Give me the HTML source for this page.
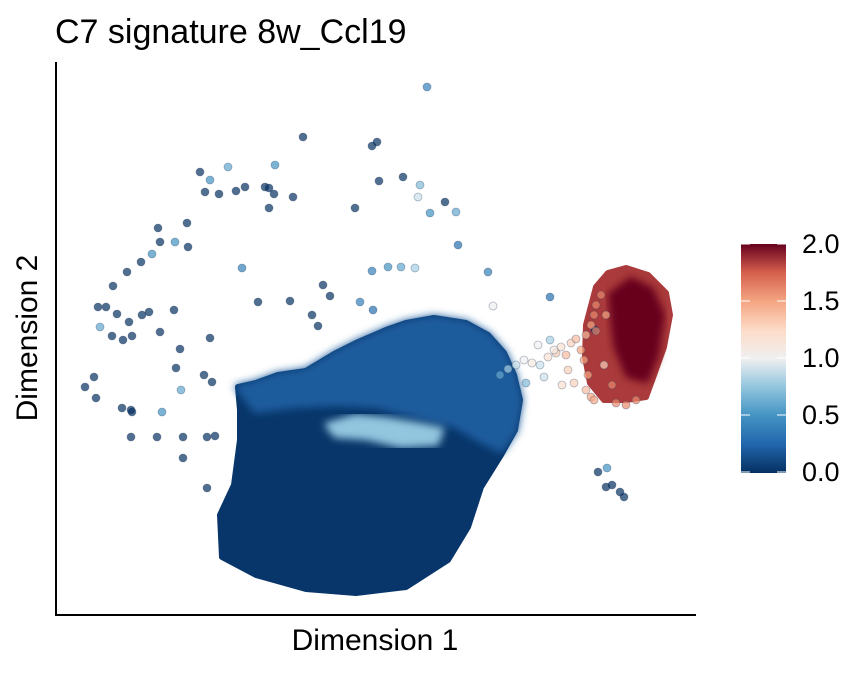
<!DOCTYPE html>
<html><head><meta charset="utf-8"><style>
html,body{margin:0;padding:0;background:#fff;}
svg text{font-family:"Liberation Sans",Arial,sans-serif;}
</style></head><body>
<svg id="chart" width="864" height="672" viewBox="0 0 864 672">
<defs>
<linearGradient id="rdbu" x1="0" y1="1" x2="0" y2="0">
<stop offset="0" stop-color="#053061"/><stop offset="0.125" stop-color="#2166ac"/><stop offset="0.25" stop-color="#4393c3"/><stop offset="0.375" stop-color="#92c5de"/><stop offset="0.5" stop-color="#f0f0f0"/><stop offset="0.625" stop-color="#fddbc7"/><stop offset="0.75" stop-color="#f4a582"/><stop offset="0.875" stop-color="#d6604d"/><stop offset="1" stop-color="#67001f"/>
</linearGradient>
<filter id="soft"><feGaussianBlur stdDeviation="4"/></filter>
</defs>
<text x="55" y="43" font-size="34" fill="#000">C7 signature 8w_Ccl19</text>
<g id="plot"></g>
<line x1="56" y1="62" x2="56" y2="616" stroke="#000" stroke-width="2"/>
<line x1="55" y1="615" x2="696" y2="615" stroke="#000" stroke-width="2"/>
<text x="375" y="650" font-size="30" text-anchor="middle">Dimension 1</text>
<text transform="translate(37,338) rotate(-90)" font-size="30" text-anchor="middle">Dimension 2</text>
<rect x="741" y="244" width="45" height="229" fill="url(#rdbu)"/>
<g id="legend"></g>
</svg>
<script>
// data units: x = px-56, y = 615-py
const legendTicks = [0.0, 0.5, 1.0, 1.5, 2.0];
const legendLabels = ["0.0", "0.5", "1.0", "1.5", "2.0"];
const mainBlob = [[182,228],[200,232],[222,240],[250,244],[280,262],[300,272],[330,285],[350,292],[378,297],[410,292],[432,280],[448,262],[458,240],[464,215],[459,185],[445,160],[425,128],[412,88],[392,55],[350,28],[300,22],[250,26],[200,40],[166,58],[164,100],[178,130],[184,175],[184,205]];
const mainValue = 0.03;
const upperBand = [[182,228],[200,232],[222,240],[250,244],[280,262],[300,272],[330,285],[350,292],[378,297],[410,292],[432,280],[448,262],[458,240],[464,215],[459,185],[445,165],[425,175],[400,190],[360,200],[320,210],[280,212],[240,210],[200,205]];
const upperValue = 0.2;
const lightStreak = [[272,190],[300,198],[330,195],[360,190],[385,185],[380,172],[345,170],[310,178],[280,180]];
const streakValue = 0.75;
const redBlob = [[540,328],[552,342],[570,347],[592,340],[610,322],[614,300],[608,268],[598,240],[590,218],[570,215],[548,215],[534,232],[529,258],[530,290]];
const redValue = 1.85;
const redCore = [[555,320],[575,335],[595,325],[606,300],[600,260],[590,235],[572,240],[560,270]];
const redCoreValue = 2.0;
const sparseX = [371,247,316,321,172,219,144,154,189,180,163,149,209,213,237,323,347,299,218,213,131,102,104,119,132,96,85,71,57,42,50,61,73,44,56,67,76,86,93,118,104,124,120,148,154,156,125,76,106,159,127,151,75,66,40,38,29,75,101,127,151,186,202,234,256,262,267,274,316,332,345,359,304,317,374,389,400,362,364,402,437,432,494,539,551,542,550,556,564,568];
const sparseY = [528,478,469,473,448,450,443,435,428,424,421,423,428,427,418,434,438,407,421,407,392,387,373,373,368,361,353,343,329,308,308,301,293,288,279,275,279,300,303,305,283,266,247,240,277,233,225,203,203,179,157,127,178,207,217,238,228,205,178,178,178,347,313,314,300,289,330,319,344,348,348,347,313,305,402,413,403,418,430,370,309,343,318,285,147,143,128,130,123,118];
const sparseV = [0.4,0,0,0,0.6,0.5,0,0.5,0,0,0,0,0,0,0,0,0,0,0,0,0,0,0,0.5,0,0.5,0,0,0,0,0,0,0,0.6,0,0,0,0,0,0,0,0,0,0,0,0,0.6,0,0.5,0,0,0,0,0,0,0,0,0,0,0,0,0.4,0,0,0,0,0,0,0.4,0.5,0.6,0.8,0.4,0.3,0.5,0,0.6,0.9,0.7,0.3,1.0,0.4,0.3,0,0.5,0,0,0,0,0];
const bridgeX = [444,452,460,468,476,484,492,500,505,510,515,520,525,530,535,540,470,488,498,512,528,538,482,494,506,518,530,535,532,540,545,550,548,556,538,560,570,580];
const bridgeY = [240,246,250,255,252,250,258,262,268,260,272,276,265,280,290,284,232,238,265,245,255,300,270,275,230,232,225,218,240,310,320,300,250,230,215,212,210,215];
const bridgeV = [0.6,0.8,0.9,1.0,1.1,0.9,1.2,1.3,1.2,1.4,1.3,1.4,1.5,1.4,1.5,1.6,0.7,0.9,1.1,1.3,1.5,1.6,1.0,0.8,1.2,1.3,1.4,1.5,1.5,1.6,1.6,1.5,1.3,1.6,1.5,1.6,1.6,1.6];

const xs = v => 56 + v;
const ys = v => 615 - v;
const cbY = v => 472 - (v/2)*228;
const stops = [[0,[5,48,97]],[0.25,[33,102,172]],[0.5,[67,147,195]],[0.75,[146,197,222]],[1,[240,240,240]],[1.25,[253,219,199]],[1.5,[244,165,130]],[1.75,[214,96,77]],[2,[103,0,31]]];
function col(v){v=Math.max(0,Math.min(2,v));for(let i=1;i<stops.length;i++){if(v<=stops[i][0]){const a=stops[i-1],b=stops[i],t=(v-a[0])/(b[0]-a[0]);return 'rgb('+a[1].map((c,k)=>Math.round(c+(b[1][k]-c)*t)).join(',')+')';}}return 'rgb(103,0,31)';}
const NS='http://www.w3.org/2000/svg';
const plot=document.getElementById('plot');
function region(pts,val,name,blur){
  const p=document.createElementNS(NS,'path');
  p.setAttribute('d','M'+pts.map(q=>xs(q[0])+','+ys(q[1])).join('L')+'Z');
  p.setAttribute('fill',col(val));
  p.setAttribute('stroke',col(val));
  p.setAttribute('stroke-width',6);
  p.setAttribute('stroke-linejoin','round');
  if(blur)p.setAttribute('filter','url(#soft)');
  
  
  plot.appendChild(p);
}
region(mainBlob,mainValue,'main-cluster-density',false);
region(upperBand,upperValue,'upper-cluster-band',true);
region(lightStreak,streakValue,'light-streak',true);
region(redBlob,redValue,'high-score-cluster',false);
region(redCore,redCoreValue,'high-score-core',true);
function dots(X,Y,V,name){
  for(let i=0;i<X.length;i++){
    const c=document.createElementNS(NS,'circle');
    c.setAttribute('cx',xs(X[i]));c.setAttribute('cy',ys(Y[i]));c.setAttribute('r',4);
    c.setAttribute('fill',col(V[i]));c.setAttribute('fill-opacity',0.7);
    c.setAttribute('stroke','#233a5c');c.setAttribute('stroke-opacity',0.35);c.setAttribute('stroke-width',0.8);
    
    
    plot.appendChild(c);
  }
}
dots(sparseX,sparseY,sparseV,'cell-point');
dots(bridgeX,bridgeY,bridgeV,'bridge-cell-point');
const lg=document.getElementById('legend');
legendTicks.forEach((t,i)=>{
  const y=cbY(t);
  [[741,750],[777,786]].forEach(([a,b])=>{
    const l=document.createElementNS(NS,'line');
    l.setAttribute('x1',a);l.setAttribute('x2',b);l.setAttribute('y1',y);l.setAttribute('y2',y);
    l.setAttribute('stroke','#fff');l.setAttribute('stroke-width',1);
    
    
    lg.appendChild(l);
  });
  const tx=document.createElementNS(NS,'text');
  tx.setAttribute('x',802);tx.setAttribute('y',y+9);tx.setAttribute('font-size',27);
  tx.textContent=legendLabels[i];
  
  
  lg.appendChild(tx);
});
</script>
</body></html>
